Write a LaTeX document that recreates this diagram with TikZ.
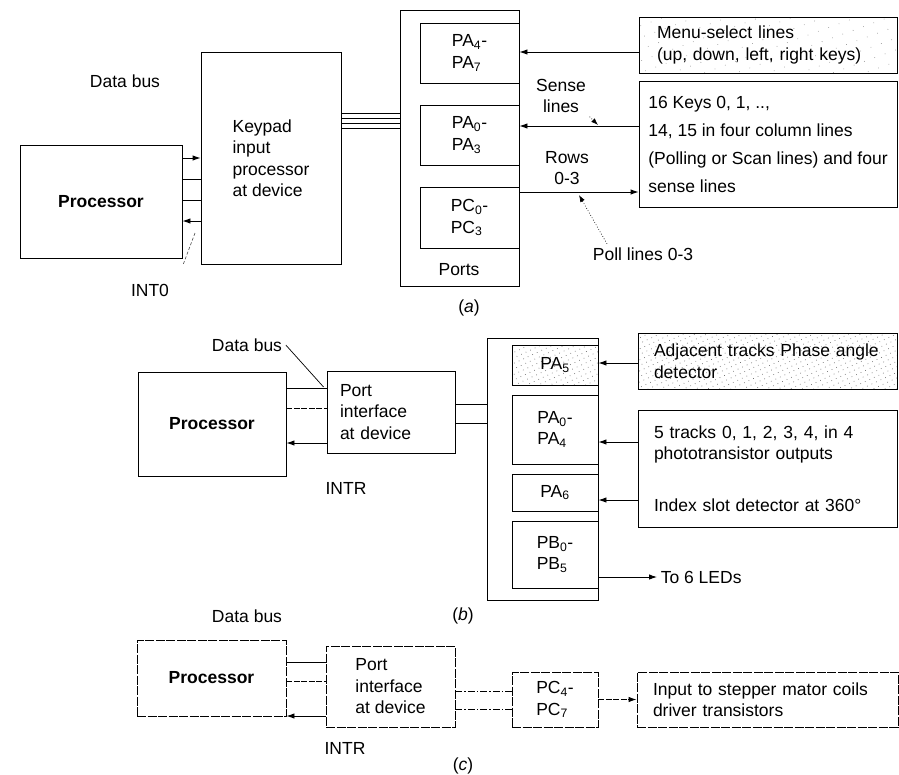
\documentclass[tikz,border=0pt]{standalone}
\usepackage{fontspec}
\setmainfont{Liberation Sans}
\usetikzlibrary{
    arrows.meta,
    patterns.meta
}

\begin{document}
\begin{tikzpicture}[
    x=1pt,
    y=-1pt,
    line width=0.9pt,
    every node/.style={
        font=\fontsize{17.5}{21.5}\selectfont
    },
    bold/.style={
        font=\fontsize{17.5}{21.5}\selectfont\bfseries
    },
    box/.style={
        draw,
        align=left
    },
    cbox/.style={
        draw,
        dash pattern=on 9pt off 1.5pt
    },
    stipple/.style={
        pattern={Dots[distance=5pt, radius=0.5pt, angle=25]},
        pattern color=black!55
    },
    sparse/.style={
        pattern={Dots[distance=11pt, radius=0.45pt, angle=20]},
        pattern color=black!45
    },
    tip/.style={
        -{Latex[length=8pt, width=5.5pt]}
    },
    leader/.style={
        dotted,
        line width=0.7pt,
        -{Latex[length=7pt, width=5pt]}
    },
    dbus/.style={
        dash pattern=on 6pt off 1.5pt
    },
    cline/.style={
        dash pattern=on 7pt off 2pt on 1.5pt off 2pt
    }
]

    \useasboundingbox (0,0) rectangle (899,774);

    % (a) Processor and keypad input processor
    \node[bold, box, minimum width=162, minimum height=113]
        (procA) at (101,201.5) {Processor};
    \node[box, minimum width=140, minimum height=212]
        (kpd) at (271,158) {Keypad\\input\\processor\\at device};
    \node (dbA) at (125,81) {Data bus};
    \node (intA) at (150,290) {INT0};

    \draw[tip] (procA.east |- 0,158) -- (kpd.west |- 0,158);
    \foreach \yy in {179,200}
        \draw (procA.east |- 0,\yy) -- (kpd.west |- 0,\yy);
    \draw[tip] (kpd.west |- 0,221) -- (procA.east |- 0,221);

    \coordinate (intAtop) at (195,233);
    \coordinate (intAbot) at (183,265);
    \draw[densely dashed, line width=0.6pt, black!70] (intAtop) -- (intAbot);

    % (a) Ports
    \node[box, minimum width=119, minimum height=276]
        (portsA) at (459.5,148) {};
    \node[box, minimum width=99, minimum height=60]
        (pa47) at (469.5,53) {PA\textsubscript{4}-\\PA\textsubscript{7}};
    \node[box, minimum width=99, minimum height=60]
        (pa03) at (469.5,135) {PA\textsubscript{0}-\\PA\textsubscript{3}};
    \node[box, minimum width=99, minimum height=61]
        (pc03) at (469.5,217.5) {PC\textsubscript{0}-\\PC\textsubscript{3}};
    \node (portsLbl) at (459,270) {Ports};

    \foreach \yy in {113,118,123,128}
        \draw[line width=0.7pt] (kpd.east |- 0,\yy) -- (portsA.west |- 0,\yy);

    % (a) Keys
    \node[box, sparse, text width=222, inner xsep=18, minimum height=56]
        (menu) at (768,45)
        {Menu-select lines\\(up, down, left, right keys)};
    \node[
        box,
        minimum width=258,
        minimum height=126,
        font=\fontsize{17.5}{28}\selectfont
    ] (keys) at (768,144)
        {16 Keys 0, 1, ..,\\14, 15 in four column lines\\(Polling or Scan lines) and four\\sense lines};

    \draw[tip] (menu.west |- 0,52) -- (pa47.east |- 0,52);
    \draw[tip] (keys.west |- 0,126) -- (pa03.east |- 0,126);
    \draw[tip] (pc03.east |- 0,192) -- (keys.west |- 0,192);

    \node[align=center] (senseLbl) at (561,96) {Sense\\lines};
    \node[align=center] (rowsLbl) at (567,168) {Rows\\0-3};
    \node (pollLbl) at (643,254) {Poll lines 0-3};

    \coordinate (senseTip) at (598,125);
    \coordinate (pollTip) at (579,195);
    \draw[leader] (senseLbl.south east) -- (senseTip);
    \draw[leader] ([xshift=-36]pollLbl.north) -- (pollTip);

    \node (capA) at (469,308) {(\textit{a})};

    % (b) Processor and port interface
    \node[bold, box, minimum width=148, minimum height=104]
        (procB) at (212,424) {Processor};
    \node[box, text width=102, inner xsep=13, minimum height=82]
        (pifB) at (391,412) {Port\\interface\\at device};
    \node (dbB) at (247,345) {Data bus};
    \node (intB) at (346,488) {INTR};

    \draw (procB.east |- 0,388) -- (pifB.west |- 0,388);
    \draw[dbus] (procB.east |- 0,408) -- (pifB.west |- 0,408);
    \draw[tip] (pifB.west |- 0,443) -- (procB.east |- 0,443);
    \draw[line width=0.7pt] (dbB.east) -- ([xshift=-3]pifB.west |- 0,387);

    % (b) Ports
    \node[box, minimum width=111, minimum height=262]
        (portsB) at (542.5,469) {};
    \node[box, stipple, align=center, minimum width=86, minimum height=40]
        (pa5) at (555,365) {PA\textsubscript{5}};
    \node[box, minimum width=86, minimum height=69]
        (pa04) at (555,429.5) {PA\textsubscript{0}-\\PA\textsubscript{4}};
    \node[box, align=center, minimum width=86, minimum height=37]
        (pa6) at (555,492.5) {PA\textsubscript{6}};
    \node[box, minimum width=86, minimum height=67]
        (pb05) at (555,554.5) {PB\textsubscript{0}-\\PB\textsubscript{5}};

    \foreach \yy in {404,423}
        \draw (pifB.east |- 0,\yy) -- (portsB.west |- 0,\yy);

    % (b) Track detectors
    \node[box, stipple, text width=227, inner xsep=16, minimum height=56]
        (adj) at (767.5,361)
        {Adjacent tracks Phase angle\\detector};
    \node[box, text width=227, inner xsep=16, minimum height=117]
        (trk) at (767.5,468.5)
        {5 tracks 0, 1, 2, 3, 4, in 4\\phototransistor outputs\\[30pt]Index slot detector at 360°};
    \node[anchor=west] (ledLbl) at (657,577) {To 6 LEDs};

    \draw[tip] (adj.west |- 0,363) -- (pa5.east |- 0,363);
    \draw[tip] (trk.west |- 0,442) -- (pa04.east |- 0,442);
    \draw[tip] (trk.west |- 0,500) -- (pa6.east |- 0,500);
    \draw[tip] (pb05.east |- 0,577) -- (ledLbl.west);

    \node (capB) at (463,616) {(\textit{b})};

    % (c) Stepper motor port
    \node[bold, cbox, minimum width=149, minimum height=76]
        (procC) at (211.5,678) {Processor};
    \node[cbox, align=left, minimum width=129, minimum height=81]
        (pifC) at (390.5,686.5) {Port\\interface\\at device};
    \node[cbox, align=left, minimum width=86, minimum height=55]
        (pc47) at (555,699.5) {PC\textsubscript{4}-\\PC\textsubscript{7}};
    \node[cbox, align=left, text width=229, inner xsep=16, minimum height=55]
        (inp) at (767.5,699.5)
        {Input to stepper mator coils\\driver transistors};
    \node (dbC) at (247,616) {Data bus};
    \node (intC) at (345,748) {INTR};

    \draw (procC.east |- 0,662) -- (pifC.west |- 0,662);
    \draw[dbus] (procC.east |- 0,681) -- (pifC.west |- 0,681);
    \draw[tip] (pifC.west |- 0,716) -- (procC.east |- 0,716);
    \foreach \yy in {691,709}
        \draw[cline] (pifC.east |- 0,\yy) -- (pc47.west |- 0,\yy);
    \draw[tip, dbus] (pc47.east) -- (inp.west);

    \node (capC) at (463,766) {(\textit{c})};

\end{tikzpicture}
\end{document}
